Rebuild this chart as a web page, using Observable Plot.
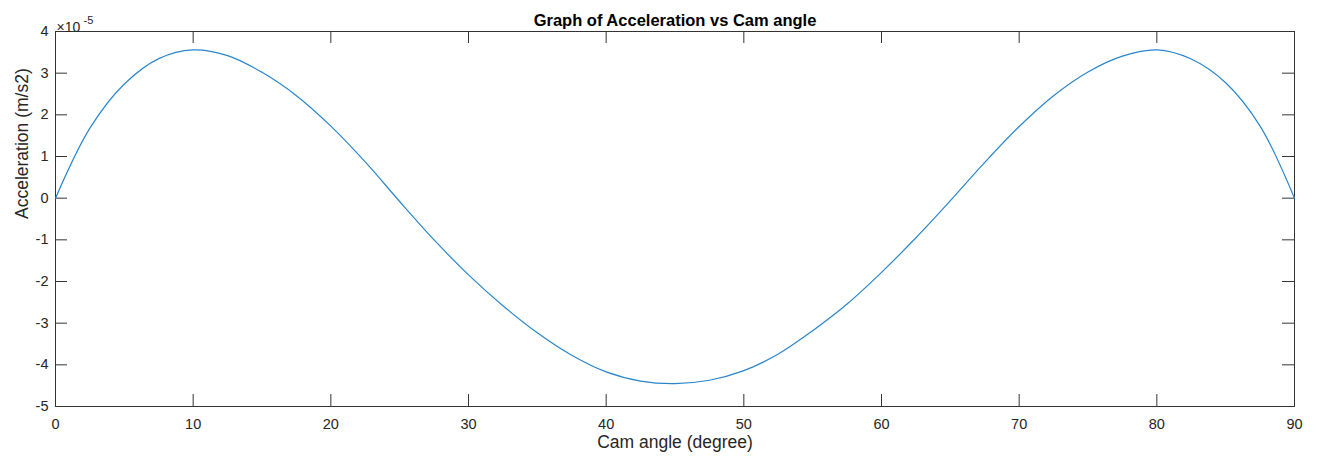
<!DOCTYPE html>
<html>
<head>
<meta charset="utf-8">
<script src="https://cdn.jsdelivr.net/npm/d3@7"></script>
<script src="https://cdn.jsdelivr.net/npm/@observablehq/plot@0.6"></script>
<style>
  html, body { margin: 0; padding: 0; background: #fff; }
  #chart svg { display: block; font-family: "Liberation Sans", Arial, Helvetica, sans-serif; }
</style>
</head>
<body>
<div id="chart"></div>
<script>
// Data (acceleration in units of 1e-5 m/s^2)
const camAngle = [0, 2.5, 5, 7.5, 10, 12.5, 15, 17.5, 20, 22.5, 25, 27.5, 30, 32.5, 35, 37.5, 40, 42.5, 45,
                  47.5, 50, 52.5, 55, 57.5, 60, 62.5, 65, 67.5, 70, 72.5, 75, 77.5, 80, 82.5, 85, 87.5, 90];
const accelE5 = [0, 1.68, 2.74, 3.35, 3.56, 3.42, 3.02, 2.46, 1.73, 0.87, -0.08, -1.0, -1.84, -2.58, -3.23, -3.77, -4.17, -4.39, -4.45,
                 -4.37, -4.14, -3.74, -3.18, -2.54, -1.78, -0.95, -0.06, 0.86, 1.72, 2.46, 3.03, 3.41, 3.56, 3.34, 2.77, 1.73, 0];
const xTicks = [0, 10, 20, 30, 40, 50, 60, 70, 80, 90];
const yTicks = [-5, -4, -3, -2, -1, 0, 1, 2, 3, 4];
const titleText = "Graph of Acceleration vs Cam angle";
const xLabel = "Cam angle (degree)";
const yLabel = "Acceleration (m/s2)";
const exponentBase = "\u00d710";
const exponentPower = "-5";

const data = camAngle.map((a, i) => ({angle: a, accel: accelE5[i]}));

const W = 1317, H = 463;
const mL = 55, mR = 23, mT = 31, mB = 57;
const plotH = H - mT - mB, plotW = W - mL - mR;
const tickLen = 12;
const axisColor = "#333333";

const chart = Plot.plot({
  width: W,
  height: H,
  marginLeft: mL,
  marginRight: mR,
  marginTop: mT,
  marginBottom: mB,
  style: {fontFamily: "Liberation Sans, Arial, Helvetica, sans-serif", background: "#fff", color: "#262626"},
  x: {domain: [0, 90]},
  y: {domain: [-5, 4]},
  marks: [
    Plot.frame({stroke: axisColor}),
    // inward ticks on all four sides
    Plot.tickX(xTicks, {x: d => d, insetTop: plotH - tickLen, stroke: axisColor}),
    Plot.tickX(xTicks, {x: d => d, insetBottom: plotH - tickLen, stroke: axisColor}),
    Plot.tickY(yTicks, {y: d => d, insetRight: plotW - tickLen, stroke: axisColor}),
    Plot.tickY(yTicks, {y: d => d, insetLeft: plotW - tickLen, stroke: axisColor}),
    Plot.axisX({ticks: xTicks, tickSize: 0, tickPadding: 12, fontSize: 14.5, label: null, tickFormat: d => String(d), fill: "#262626"}),
    Plot.axisY({ticks: yTicks, tickSize: 0, tickPadding: 7, fontSize: 14.5, label: null, tickFormat: d => String(d), fill: "#262626"}),
    Plot.line(data, {x: "angle", y: "accel", stroke: "#2a86cc", strokeWidth: 1.2, curve: "catmull-rom"}),
    Plot.text([titleText], {frameAnchor: "top", dy: -17, fontSize: 16.5, fontWeight: "bold", fill: "#000"}),
    Plot.text([xLabel], {frameAnchor: "bottom", dy: 41, fontSize: 17.5, fill: "#262626"}),
    Plot.text([yLabel], {frameAnchor: "left", rotate: -90, dx: -33, fontSize: 17.5, fill: "#262626"}),
    Plot.text([exponentBase], {frameAnchor: "top-left", textAnchor: "start", dx: 1, dy: -9, fontSize: 14, fill: "#262626"}),
    Plot.text([exponentPower], {frameAnchor: "top-left", textAnchor: "start", dx: 28, dy: -15, fontSize: 11, fill: "#262626"})
  ]
});
document.getElementById("chart").appendChild(chart);
</script>
</body>
</html>
